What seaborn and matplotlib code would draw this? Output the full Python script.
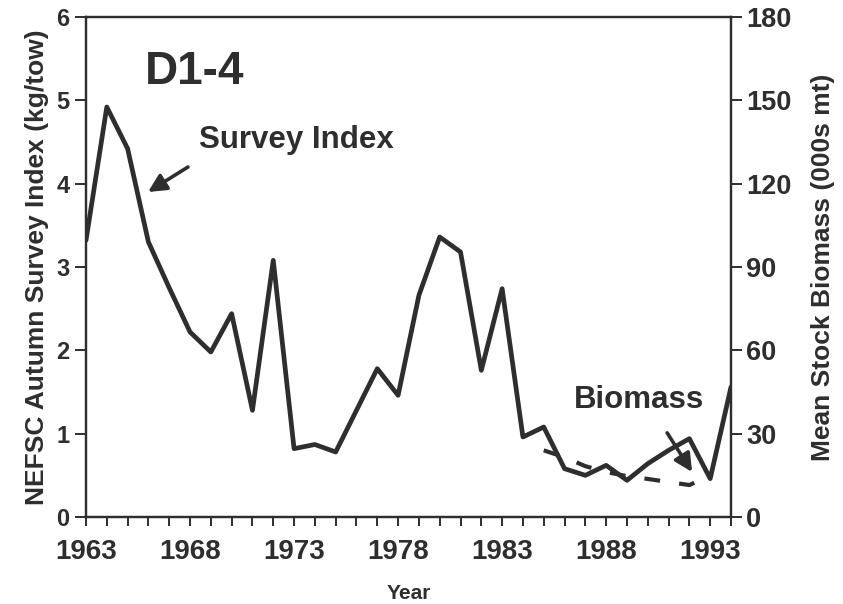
import matplotlib
matplotlib.use("Agg")
import matplotlib.pyplot as plt
import seaborn as sns
import pandas as pd

sns.set_theme(style="white")
plt.rcParams['font.family'] = ['Liberation Sans', 'DejaVu Sans']

years = list(range(1963, 1995))
survey_index = [3.32, 4.92, 4.42, 3.30, 2.75, 2.22, 1.98, 2.44, 1.28, 3.08,
                0.82, 0.87, 0.78, 1.28, 1.78, 1.46, 2.66, 3.36, 3.18, 1.76,
                2.74, 0.96, 1.08, 0.58, 0.50, 0.62, 0.44, 0.64, 0.80, 0.94,
                0.46, 1.56]
biomass_years = list(range(1985, 1994))
biomass = [24.0, 21.5, 18.3, 16.2, 14.7, 13.7, 12.6, 11.5, 15.0]

xtick_years = [1963, 1968, 1973, 1978, 1983, 1988, 1993]
left_ticks = [0, 1, 2, 3, 4, 5, 6]
right_ticks = [0, 30, 60, 90, 120, 150, 180]

df_s = pd.DataFrame({"Year": years, "Index": survey_index})
df_b = pd.DataFrame({"Year": biomass_years, "Biomass": biomass})

ink = "#2e2e2e"
fig = plt.figure(figsize=(8.43, 6.04), dpi=100)
ax = fig.add_axes([86/843, 1-517/604, (731-86)/843, (517-17)/604])
ax2 = ax.twinx()

sns.lineplot(data=df_s, x="Year", y="Index", ax=ax, color=ink, linewidth=3.4)
sns.lineplot(data=df_b, x="Year", y="Biomass", ax=ax2, color=ink, linewidth=3.0,
             linestyle=(0, (3.8, 4.6)))

ax.set_xlim(1963, 1994)
ax.set_ylim(0, 6)
ax2.set_ylim(0, 180)
ax.set_xticks(years, minor=False)
ax.set_xticklabels([str(y) if y in xtick_years else "" for y in years])
ax.set_yticks(left_ticks)
ax2.set_yticks(right_ticks)

for a in (ax, ax2):
    for s in a.spines.values():
        s.set_color(ink)
        s.set_linewidth(1.6)
ax.tick_params(axis="x", direction="out", length=6.5, width=1.4, color=ink,
               labelsize=20, labelcolor=ink, pad=9, bottom=True)
ax.tick_params(axis="y", direction="out", length=8, width=1.4, color=ink,
               labelsize=17, labelcolor=ink, pad=4, left=True)
ax2.tick_params(axis="y", direction="out", length=8, width=1.4, color=ink,
                labelsize=19.5, labelcolor=ink, pad=3, right=True)
for lab in ax.get_xticklabels() + ax.get_yticklabels() + ax2.get_yticklabels():
    lab.set_fontweight("bold")

ax.set_xlabel("Year", fontsize=15, fontweight="bold", color=ink, labelpad=14)
ax.set_ylabel("NEFSC Autumn Survey Index (kg/tow)", fontsize=19, fontweight="bold",
              color=ink, labelpad=5)
ax2.set_ylabel("Mean Stock Biomass (000s mt)", fontsize=19, fontweight="bold",
               color=ink, labelpad=14)
ax.grid(False)
ax2.grid(False)

ax.text(1968.24, 5.34, "D1-4", fontsize=33, fontweight="bold", color=ink,
        ha="center", va="center")
ax.text(1973.1, 4.52, "Survey Index", fontsize=22.5, fontweight="bold", color=ink,
        ha="center", va="center")
ax.text(1989.6, 1.40, "Biomass", fontsize=22.5, fontweight="bold", color=ink,
        ha="center", va="center")

arrow_kw = dict(arrowstyle="-|>,head_length=0.9,head_width=0.45", color=ink,
                lw=2.6, shrinkA=0, shrinkB=0)
ax.annotate("", xy=(1965.98, 3.90), xytext=(1967.9, 4.20), arrowprops=arrow_kw)
ax.annotate("", xy=(1992.13, 0.54), xytext=(1990.93, 1.01), arrowprops=arrow_kw)

fig.savefig("out.png", dpi=100, facecolor="white")
